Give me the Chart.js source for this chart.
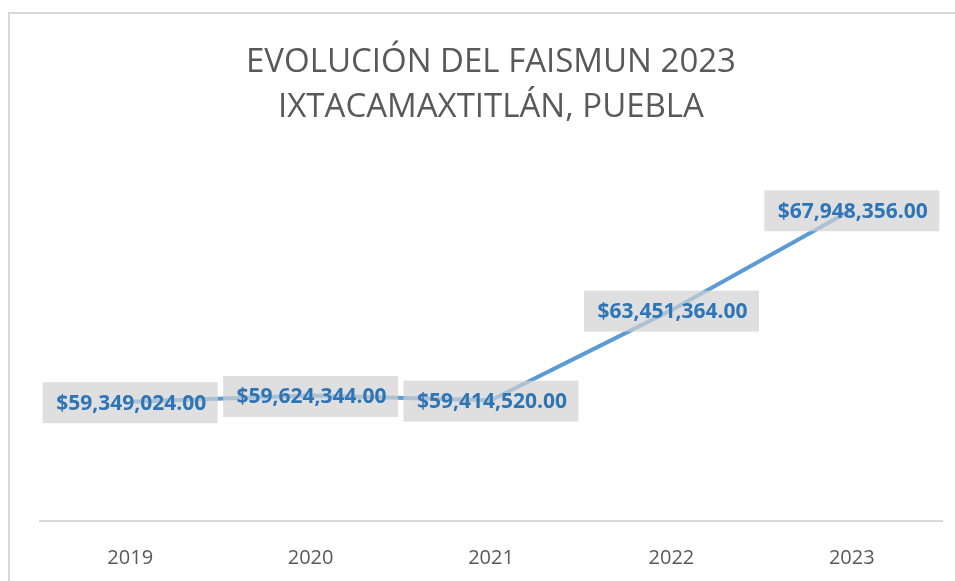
<!DOCTYPE html>
<html>
<head>
<meta charset="utf-8">
<script src="https://cdn.jsdelivr.net/npm/chart.js@4.4.1/dist/chart.umd.min.js"></script>
<style>
  html, body { margin: 0; padding: 0; background: #fff; }
  #faismunChart { display: block; }
</style>
</head>
<body>
<canvas id="faismunChart" width="955" height="581"></canvas>
<script>
const years = ['2019', '2020', '2021', '2022', '2023'];
const faismun = [59349024, 59624344, 59414520, 63451364, 67948356];
const titleLines = ['EVOLUCIÓN DEL FAISMUN 2023', 'IXTACAMAXTITLÁN, PUEBLA'];

const font = "'Open Sans', sans-serif";

function money(v) {
    return '$' + v.toLocaleString('en-US', { minimumFractionDigits: 2, maximumFractionDigits: 2 });
}

// white background + the light frame of the chart object
const frame = {
    id: 'frame',
    beforeDraw(chart) {
        const c = chart.ctx;
        c.save();
        c.fillStyle = '#fff';
        c.fillRect(0, 0, chart.width, chart.height);
        c.strokeStyle = '#d9d9d9';
        c.lineWidth = 2;
        c.beginPath();
        c.moveTo(9, chart.height);
        c.lineTo(9, 13);
        c.lineTo(chart.width, 13);
        c.stroke();
        c.restore();
    }
};

// data labels in grey boxes, centred on each point
const valueBoxes = {
    id: 'valueBoxes',
    afterDatasetsDraw(chart) {
        const c = chart.ctx;
        const meta = chart.getDatasetMeta(0);
        c.save();
        c.font = 'bold 21px ' + font;
        c.textAlign = 'center';
        c.textBaseline = 'middle';
        meta.data.forEach((pt, i) => {
            const w = 175, h = 41;
            c.fillStyle = 'rgba(210,210,210,0.7)';
            c.fillRect(pt.x - w / 2, pt.y - h / 2 + 1, w, h);
            c.fillStyle = '#2e75b6';
            c.fillText(money(faismun[i]), pt.x + 1, pt.y + 2);
        });
        c.restore();
    }
};

const ctx = document.getElementById('faismunChart').getContext('2d');
const faismunChart = new Chart(ctx, {
    type: 'line',
    data: {
        labels: years,
        datasets: [{
            label: 'FAISMUN',
            data: faismun,
            borderColor: '#5b9bd5',
            borderWidth: 4,
            pointRadius: 0,
            tension: 0,
            fill: false
        }]
    },
    options: {
        responsive: false,
        animation: false,
        layout: {
            padding: { top: 40, left: 40, right: 13, bottom: 0 }
        },
        plugins: {
            legend: { display: false },
            tooltip: { enabled: false },
            title: {
                display: true,
                text: titleLines,
                color: '#595959',
                font: { family: font, size: 33, weight: 'normal', lineHeight: 1.364 },
                padding: { top: 0, bottom: 34 }
            }
        },
        scales: {
            x: {
                offset: true,
                grid: { display: false, drawTicks: false },
                border: { display: true, color: '#d9d9d9', width: 2 },
                ticks: {
                    color: '#595959',
                    padding: 25,
                    font: { family: font, size: 20 }
                },
                afterFit(scale) {
                    scale.height = 60;
                }
            },
            y: {
                display: false,
                min: 54000000,
                max: 70000000
            }
        }
    },
    plugins: [frame, valueBoxes]
});
</script>
</body>
</html>
